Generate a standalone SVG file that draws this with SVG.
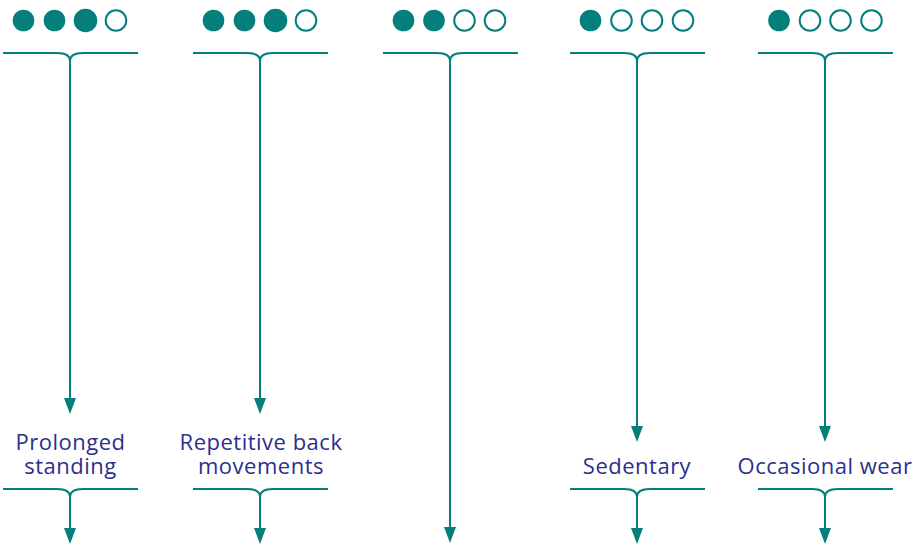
<svg xmlns="http://www.w3.org/2000/svg" width="917" height="547" viewBox="0 0 917 547">
  <style>
    .brace { fill: none; stroke: #047f7b; stroke-width: 2; }
    .arrow { fill: none; stroke: #047f7b; stroke-width: 2; marker-end: url(#head); }
    .full { fill: #047f7b; }
    .empty { fill: #ffffff; stroke: #047f7b; stroke-width: 2; }
    .lbl { font-family: "Open Sans", "Liberation Sans", sans-serif; font-size: 22px; letter-spacing: 0.5px; fill: #2b2f8e; text-anchor: middle; }
  </style>
  <defs>
    <marker id="head" markerUnits="userSpaceOnUse" markerWidth="16" markerHeight="12" refX="2" refY="6" orient="auto" viewBox="0 0 16 12">
      <path d="M0,0 L16,6 L0,12 z" fill="#047f7b"/>
    </marker>
  </defs>

  <rect width="917" height="547" fill="#ffffff"/>

  <g id="connectors">
    <!-- column 1 -->
    <path class="brace" d="M3,53 H57 C65,53 70,55 70,61 M138,53 H83 C75,53 70,55 70,61"/>
    <path class="arrow" d="M70,60 V400"/>
    <path class="brace" d="M3,489 H57 C65,489 70,491 70,497 M138,489 H83 C75,489 70,491 70,497"/>
    <path class="arrow" d="M70,496 V530"/>
    <!-- column 2 -->
    <path class="brace" d="M193,53 H247 C255,53 260,55 260,61 M328,53 H273 C265,53 260,55 260,61"/>
    <path class="arrow" d="M260,60 V400"/>
    <path class="brace" d="M193,489 H247 C255,489 260,491 260,497 M328,489 H273 C265,489 260,491 260,497"/>
    <path class="arrow" d="M260,496 V530"/>
    <!-- column 3 -->
    <path class="brace" d="M383,53 H437 C445,53 450,55 450,61 M518,53 H463 C455,53 450,55 450,61"/>
    <path class="arrow" d="M450,60 V529"/>
    <!-- column 4 -->
    <path class="brace" d="M570,53 H624 C632,53 637,55 637,61 M705,53 H650 C642,53 637,55 637,61"/>
    <path class="arrow" d="M637,60 V428"/>
    <path class="brace" d="M570,489 H624 C632,489 637,491 637,497 M705,489 H650 C642,489 637,491 637,497"/>
    <path class="arrow" d="M637,496 V530"/>
    <!-- column 5 -->
    <path class="brace" d="M758,53 H812 C820,53 825,55 825,61 M893,53 H838 C830,53 825,55 825,61"/>
    <path class="arrow" d="M825,60 V428"/>
    <path class="brace" d="M758,489 H812 C820,489 825,491 825,497 M893,489 H838 C830,489 825,491 825,497"/>
    <path class="arrow" d="M825,496 V530"/>
  </g>

  <g id="rating-1">
    <circle class="full" cx="23.5" cy="20.5" r="10.8"/>
    <circle class="full" cx="54.5" cy="20.5" r="10.8"/>
    <circle class="full" cx="85.5" cy="20.5" r="11.8"/>
    <circle class="empty" cx="116" cy="20.5" r="10.3"/>
  </g>
  <g id="rating-2">
    <circle class="full" cx="213.5" cy="20.5" r="10.8"/>
    <circle class="full" cx="244.5" cy="20.5" r="10.8"/>
    <circle class="full" cx="275.5" cy="20.5" r="11.8"/>
    <circle class="empty" cx="306" cy="20.5" r="10.3"/>
  </g>
  <g id="rating-3">
    <circle class="full" cx="403.5" cy="20.5" r="10.8"/>
    <circle class="full" cx="434" cy="20.5" r="10.8"/>
    <circle class="empty" cx="464.5" cy="20.5" r="10.3"/>
    <circle class="empty" cx="495" cy="20.5" r="10.3"/>
  </g>
  <g id="rating-4">
    <circle class="full" cx="590.5" cy="20.5" r="10.8"/>
    <circle class="empty" cx="621.5" cy="20.5" r="10.3"/>
    <circle class="empty" cx="652" cy="20.5" r="10.3"/>
    <circle class="empty" cx="683" cy="20.5" r="10.3"/>
  </g>
  <g id="rating-5">
    <circle class="full" cx="779" cy="20.5" r="10.8"/>
    <circle class="empty" cx="810" cy="20.5" r="10.3"/>
    <circle class="empty" cx="840.5" cy="20.5" r="10.3"/>
    <circle class="empty" cx="871.5" cy="20.5" r="10.3"/>
  </g>

  <g id="label-prolonged-standing">
    <text class="lbl" x="70.5" y="450">Prolonged</text>
    <text class="lbl" x="70.5" y="473.5">standing</text>
  </g>
  <g id="label-repetitive-back-movements">
    <text class="lbl" x="261" y="450">Repetitive back</text>
    <text class="lbl" x="261" y="473.5">movements</text>
  </g>
  <g id="label-sedentary">
    <text class="lbl" x="637" y="474">Sedentary</text>
  </g>
  <g id="label-occasional-wear">
    <text class="lbl" x="825" y="474">Occasional wear</text>
  </g>
</svg>
